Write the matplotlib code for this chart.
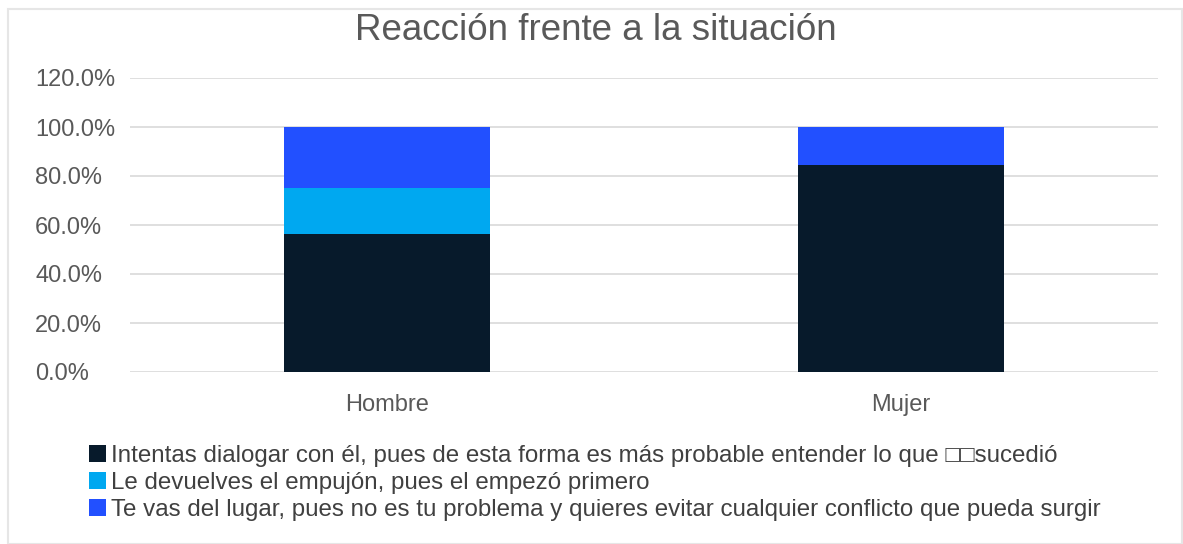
import matplotlib
matplotlib.use("Agg")
import matplotlib.pyplot as plt
from matplotlib.patches import Rectangle
from matplotlib.ticker import PercentFormatter

plt.rcParams['font.family'] = ['Liberation Sans', 'DejaVu Sans']

categories = ["Hombre", "Mujer"]
series_names = [
    "Intentas dialogar con él, pues de esta forma es más probable entender lo que \u25a1\u25a1sucedió",
    "Le devuelves el empujón, pues el empezó primero",
    "Te vas del lugar, pues no es tu problema y quieres evitar cualquier conflicto que pueda surgir",
]
dialogar = [56.25, 84.6]
devuelves = [18.75, 0.0]
te_vas = [25.0, 15.4]
colors = ["#071a2b", "#00a8f0", "#2250ff"]
yticks = [0, 20, 40, 60, 80, 100, 120]

fig = plt.figure(figsize=(11.83, 5.44), dpi=100)
fig.patches.append(Rectangle((8/1183, 0), 1 - 9/1183, 1 - 9/544, transform=fig.transFigure,
                             fill=False, edgecolor="#e6e6e6", linewidth=1.5))
ax = fig.add_axes([130/1183, 1 - 372/544, 1028/1183, (372 - 78)/544])

x = range(len(categories))
bottom = [0, 0]
for vals, name, c in zip([dialogar, devuelves, te_vas], series_names, colors):
    ax.bar(x, vals, width=0.4, bottom=bottom, color=c, label=name, zorder=3)
    bottom = [b + v for b, v in zip(bottom, vals)]

ax.set_xlim(-0.5, 1.5)
ax.set_ylim(0, 120)
ax.set_yticks(yticks)
ax.yaxis.set_major_formatter(PercentFormatter(decimals=1))
ax.set_xticks(list(x))
ax.set_xticklabels(categories)
ax.grid(axis="y", color="#d9d9d9", linewidth=1.2, zorder=0)
for s in ax.spines.values():
    s.set_visible(False)
ax.tick_params(axis="both", length=0, colors="#595959", labelsize=17)
ax.tick_params(axis="y", pad=95 * 0.72)
for lbl in ax.get_yticklabels():
    lbl.set_horizontalalignment("left")
ax.tick_params(axis="x", pad=16)

fig.text(596/1183, 1 - 31/544, "Reacción frente a la situación", ha="center", va="center",
         fontsize=26.5, color="#595959")

leg = fig.legend(loc="upper left", bbox_to_anchor=(89/1183, 1 - 445/544), frameon=False,
                 fontsize=17.4, handlelength=0.72, handleheight=0.72, handletextpad=0.18,
                 labelspacing=0.2, labelcolor="#404040", borderaxespad=0, borderpad=0)

fig.savefig("out.png", dpi=100)
